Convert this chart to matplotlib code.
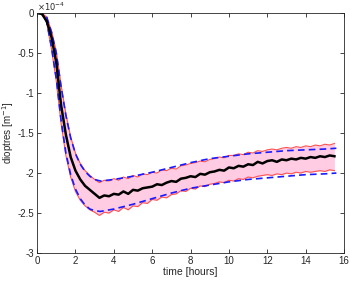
import numpy as np
import matplotlib
matplotlib.use("Agg")
import matplotlib.pyplot as plt

plt.rcParams["font.family"] = ["Liberation Sans", "DejaVu Sans"]

# time grid [hours] for mean and per-sample envelope (red)
t = [0.0, 0.25, 0.5, 0.75, 1.0, 1.25, 1.5, 1.75, 2.0, 2.25, 2.5, 2.75,
     3.0, 3.25, 3.5, 3.75, 4.0, 4.25, 4.5, 4.75, 5.0, 5.25, 5.5, 5.75,
     6.0, 6.25, 6.5, 6.75, 7.0, 7.25, 7.5, 7.75, 8.0, 8.25, 8.5, 8.75,
     9.0, 9.25, 9.5, 9.75, 10.0, 10.25, 10.5, 10.75, 11.0, 11.25, 11.5, 11.75,
     12.0, 12.25, 12.5, 12.75, 13.0, 13.25, 13.5, 13.75, 14.0, 14.25, 14.5, 14.75,
     15.0, 15.25, 15.5]

# values in units of 1e-4 dioptres
mean = [0.0, -0.01, -0.1, -0.3, -0.62, -1.15, -1.52, -1.8, -1.97, -2.08, -2.16, -2.21,
        -2.26, -2.31, -2.28, -2.29, -2.26, -2.27, -2.23, -2.26, -2.21, -2.22, -2.19, -2.18,
        -2.17, -2.14, -2.15, -2.12, -2.10, -2.11, -2.07, -2.06, -2.04, -2.05, -2.01, -2.02,
        -1.99, -1.98, -1.96, -1.97, -1.93, -1.94, -1.91, -1.92, -1.89, -1.90, -1.86, -1.88,
        -1.85, -1.84, -1.86, -1.83, -1.84, -1.82, -1.83, -1.81, -1.82, -1.80, -1.81, -1.79,
        -1.80, -1.78, -1.79]

red_hi = [0.0, 0.0, -0.05, -0.22, -0.48, -0.9, -1.26, -1.55, -1.75, -1.88, -1.97, -2.03,
          -2.08, -2.12, -2.09, -2.1, -2.07, -2.09, -2.05, -2.07, -2.03, -2.05, -2.01, -2.02,
          -1.99, -2.0, -1.96, -1.97, -1.94, -1.95, -1.91, -1.9, -1.88, -1.87, -1.85, -1.86,
          -1.83, -1.82, -1.8, -1.81, -1.78, -1.78, -1.76, -1.77, -1.74, -1.75, -1.72, -1.73,
          -1.71, -1.7, -1.71, -1.69, -1.68, -1.69, -1.67, -1.68, -1.66, -1.67, -1.65, -1.66,
          -1.64, -1.65, -1.63]

red_lo = [0.0, -0.01, -0.12, -0.45, -0.85, -1.38, -1.78, -2.05, -2.23, -2.34, -2.41, -2.46,
          -2.49, -2.53, -2.49, -2.5, -2.46, -2.48, -2.43, -2.46, -2.41, -2.42, -2.37, -2.38,
          -2.33, -2.34, -2.3, -2.31, -2.27, -2.26, -2.22, -2.23, -2.19, -2.2, -2.16, -2.17,
          -2.14, -2.13, -2.11, -2.12, -2.09, -2.1, -2.07, -2.08, -2.05, -2.06, -2.04, -2.03,
          -2.02, -2.03, -2.01, -2.02, -2.0, -2.01, -1.99, -2.0, -1.98, -1.99, -1.98, -1.97,
          -1.98, -1.96, -1.97]

# smooth bounds (blue dashed)
t_b = [0, 0.25, 0.5, 0.75, 1, 1.25, 1.5, 1.75, 2, 2.25, 2.5, 2.75, 3, 3.3,
       4, 5, 6, 7, 8, 9, 10, 11, 12, 13, 14, 15, 15.6]
blue_hi = [0, 0, -0.05, -0.24, -0.5, -0.92, -1.28, -1.56, -1.76, -1.89, -1.98, -2.04, -2.08, -2.1,
           -2.08, -2.04, -1.99, -1.93, -1.87, -1.82, -1.79, -1.76, -1.74, -1.72, -1.71, -1.70, -1.69]
blue_lo = [0, -0.01, -0.11, -0.43, -0.82, -1.34, -1.75, -2.02, -2.2, -2.32, -2.4, -2.45, -2.47, -2.48,
           -2.45, -2.39, -2.32, -2.25, -2.19, -2.15, -2.11, -2.08, -2.06, -2.04, -2.02, -2.01, -2.0]

fig = plt.figure(figsize=(3.5, 2.84), dpi=100)
ax = fig.add_axes([0.106, 0.109, 0.877, 0.845])

ax.fill_between(t, red_lo, red_hi, color="#ffcce4", lw=0)
ax.plot(t, red_hi, color="#ff5050", lw=0.8)
ax.plot(t, red_lo, color="#ff5050", lw=0.8)
ax.plot(t_b, blue_hi, color="#1a1aff", lw=1.2, ls=(0, (4, 2.5)))
ax.plot(t_b, blue_lo, color="#1a1aff", lw=1.2, ls=(0, (4, 2.5)))
ax.plot(t, mean, color="k", lw=1.8)

ax.set_xlim(0, 16)
ax.set_ylim(-3, 0)
ax.set_xticks(np.arange(0, 17, 2))
yt = [-3, -2.5, -2, -1.5, -1, -0.5, 0]
ax.set_yticks(yt)
ax.set_yticklabels(["%g" % v for v in yt])

ax.tick_params(direction="in", length=3, width=0.6, labelsize=7, colors="#262626",
               top=True, right=True, pad=2)
for s in ax.spines.values():
    s.set_color("#262626")
    s.set_linewidth(0.6)

ax.set_xlabel("time [hours]", fontsize=7.5, color="#262626", labelpad=1)
ax.set_ylabel("dioptres [m$^{-1}$]", fontsize=7, color="#262626", labelpad=1)
ax.text(0.0, 1.0, r"$\times10^{-4}$", transform=ax.transAxes, fontsize=6,
        color="#262626", ha="left", va="bottom")

fig.savefig("out.png", dpi=100)
